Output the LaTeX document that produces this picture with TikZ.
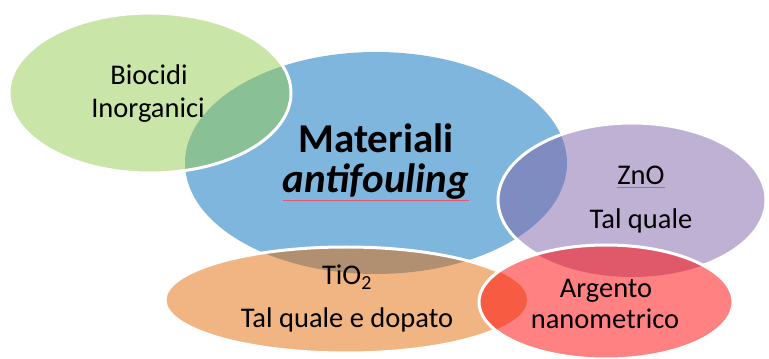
\documentclass[tikz,border=0pt]{standalone}
\usepackage{fontspec}
\setmainfont{Carlito}
\definecolor{cblue}{RGB}{0,109,187}
\definecolor{cgreen}{RGB}{147,203,79}
\definecolor{cpurple}{RGB}{127,99,167}
\definecolor{corange}{RGB}{227,107,7}
\definecolor{cred}{RGB}{255,3,3}
\definecolor{squig}{RGB}{225,90,110}
\begin{document}
\begin{tikzpicture}[x=1pt,y=1pt,
  venn/.style={fill opacity=0.5},
  rim/.style={draw=white,line width=3pt},
  lbl/.style={font=\fontsize{28.5}{34}\selectfont,anchor=base,inner sep=0pt,text=black},
  title/.style={font=\fontsize{41}{48}\selectfont\bfseries,anchor=base,inner sep=0pt,text=black},
  spell/.style={draw=squig,line width=0.9pt}]
\useasboundingbox (0,0) rectangle (769,359);
\coordinate (cb) at (376,196);
\coordinate (cg) at (150,266);
\coordinate (cp) at (632,159);
\coordinate (co) at (346,59);
\coordinate (cr) at (606,57);
% blue
\fill[cblue,venn] (cb) ellipse [x radius=191pt,y radius=111pt];
% green
\fill[cgreen,venn] (cg) ellipse [x radius=141pt,y radius=80pt];
\draw[rim] (cg) ellipse [x radius=141pt,y radius=80pt];
% purple
\fill[cpurple,venn] (cp) ellipse [x radius=134pt,y radius=77pt];
\begin{scope}[even odd rule]
\clip (-20,-20) rectangle (790,380) (cr) ellipse [x radius=127pt,y radius=57pt];
\draw[rim] (cp) ellipse [x radius=134pt,y radius=77pt];
\end{scope}
% orange
\fill[corange,venn] (co) ellipse [x radius=181pt,y radius=53pt];
\begin{scope}[even odd rule]
\clip (-20,-20) rectangle (790,380) (cr) ellipse [x radius=127pt,y radius=57pt];
\draw[rim] (co) ellipse [x radius=181pt,y radius=53pt];
\end{scope}
% red
\fill[cred,venn] (cr) ellipse [x radius=127pt,y radius=57pt];
\draw[rim] (cr) ellipse [x radius=127pt,y radius=57pt];
% texts
\node[lbl] (bio) at (149,274) {Biocidi};
\node[lbl] (ino) at (148,241) {Inorganici};
\node[title] (mat) at (376,206) {Materiali};
\node[title] (anti) at (376,166) {\itshape antifouling};
\node[lbl] (zno) at (641,174) {ZnO};
\node[lbl] (tq1) at (641,130) {Tal quale};
\node[lbl] (tio) at (347,74) {TiO\textsubscript{2}};
\node[lbl] (tq2) at (347,31) {Tal quale e dopato};
\node[lbl] (arg) at (606,61) {Argento};
\node[lbl] (nano) at (605,30) {nanometrico};
\draw[spell] ([yshift=-7pt]anti.base west) -- ([yshift=-7pt]anti.base east);
\draw[spell] ([yshift=-2pt]zno.base west) -- ([yshift=-2pt]zno.base east);
\end{tikzpicture}
\end{document}
